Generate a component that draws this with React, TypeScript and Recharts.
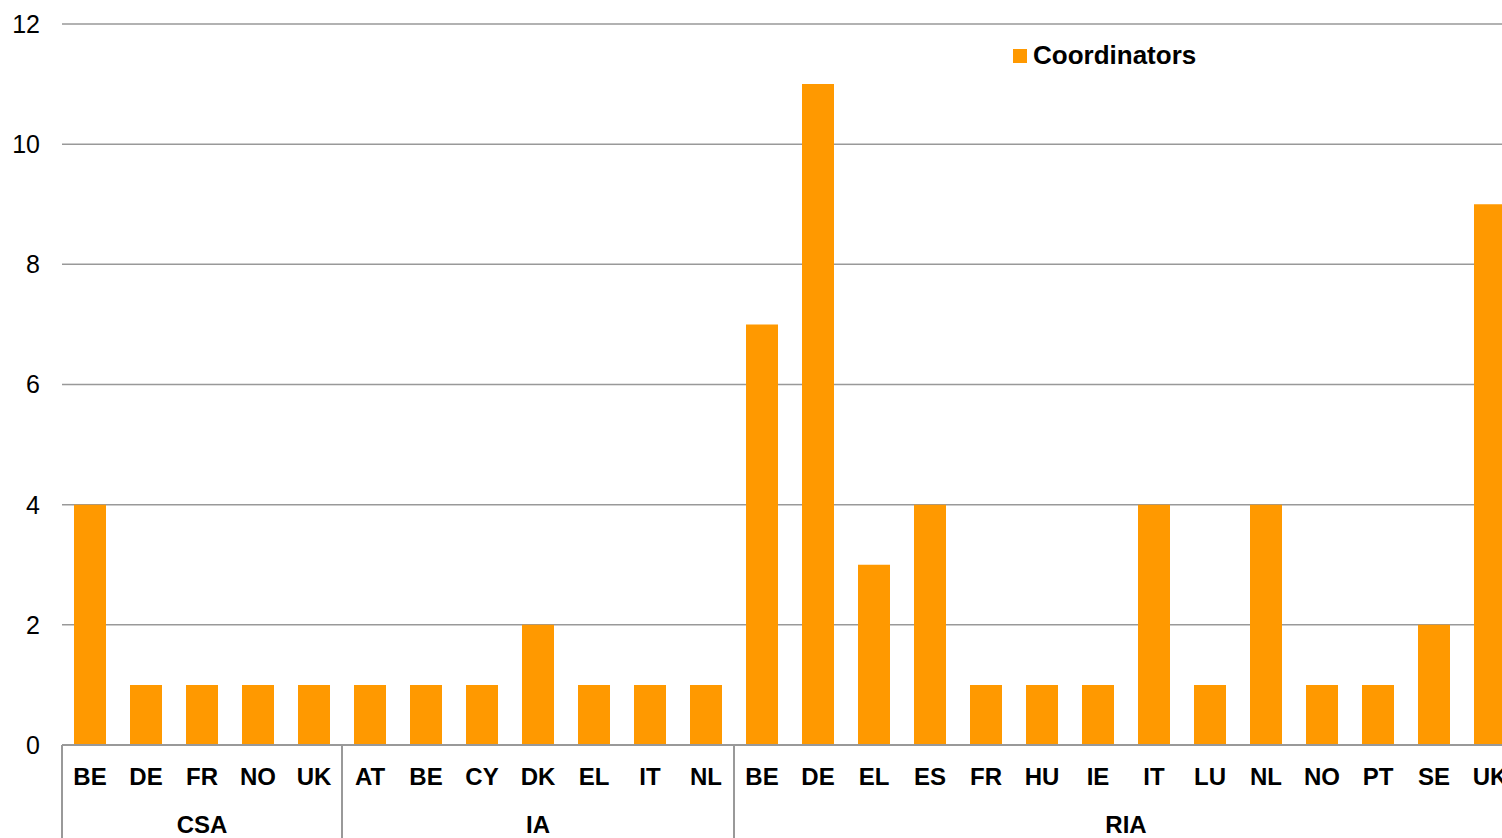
import { Bar, BarChart, CartesianGrid, Legend, XAxis, YAxis } from 'recharts';

// countries by funding type
const csaCountries = ['BE', 'DE', 'FR', 'NO', 'UK'];
const iaCountries = ['AT', 'BE', 'CY', 'DK', 'EL', 'IT', 'NL'];
const riaCountries = ['BE', 'DE', 'EL', 'ES', 'FR', 'HU', 'IE', 'IT', 'LU', 'NL', 'NO', 'PT', 'SE', 'UK'];

// number of coordinators
const csaCoordinators = [4, 1, 1, 1, 1];
const iaCoordinators = [1, 1, 1, 2, 1, 1, 1];
const riaCoordinators = [7, 11, 3, 4, 1, 1, 1, 4, 1, 4, 1, 1, 2, 9];

const yTicks = [0, 2, 4, 6, 8, 10, 12];

const groups = [
  { name: 'CSA', countries: csaCountries, values: csaCoordinators },
  { name: 'IA', countries: iaCountries, values: iaCoordinators },
  { name: 'RIA', countries: riaCountries, values: riaCoordinators },
];

const data = groups.flatMap((g) =>
  g.countries.map((c, i) => ({
    key: `${g.name}-${c}`,
    country: c,
    group: g.name,
    groupSize: g.countries.length,
    coordinators: g.values[i],
  })),
);

const FONT = '"Liberation Sans", Arial, sans-serif';
const GRAY = '#999999';

function CategoryTick(props: any) {
  const { x, y, payload } = props;
  const index = payload.index ?? props.index;
  const row = data[index];
  if (!row) return null;
  const half = payload.offset || 28;
  const isFirst = index === 0 || data[index - 1].group !== row.group;
  const isLast = index === data.length - 1 || data[index + 1].group !== row.group;
  const start = x - half;
  return (
    <g>
      <text x={x} y={y + 40} textAnchor="middle" fontFamily={FONT} fontSize={24} fontWeight="bold" fill="#000">
        {row.country}
      </text>
      {isFirst && (
        <>
          <line x1={start} y1={y} x2={start} y2={y + 160} stroke={GRAY} strokeWidth={2} />
          <text
            x={start + row.groupSize * half}
            y={y + 88}
            textAnchor="middle"
            fontFamily={FONT}
            fontSize={24}
            fontWeight="bold"
            fill="#000"
          >
            {row.group}
          </text>
        </>
      )}
      {isLast && <line x1={x + half} y1={y} x2={x + half} y2={y + 160} stroke={GRAY} strokeWidth={2} />}
    </g>
  );
}

function LegendContent(props: any) {
  const item = props.payload?.[0];
  if (!item) return null;
  return (
    <div style={{ display: 'flex', alignItems: 'center', fontFamily: FONT, fontSize: 26, fontWeight: 'bold', color: '#000' }}>
      <span style={{ display: 'inline-block', width: 14, height: 14, background: item.color, marginRight: 6 }} />
      {item.value}
    </div>
  );
}

export default function App() {
  return (
    <div style={{ position: 'absolute', left: 0, top: 0, width: 1502, height: 838, overflow: 'hidden', background: '#fff' }}>
      <BarChart width={1518} height={900} data={data} margin={{ top: 24, right: 0, bottom: 0, left: 0 }}>
        <CartesianGrid vertical={false} stroke={GRAY} strokeWidth={1.5} />
        <XAxis
          dataKey="key"
          interval={0}
          height={155}
          tickSize={0}
          tickMargin={0}
          tickLine={false}
          axisLine={{ stroke: GRAY, strokeWidth: 2 }}
          tick={<CategoryTick />}
        />
        <YAxis
          width={62}
          domain={[0, 12]}
          ticks={yTicks}
          axisLine={false}
          tickLine={false}
          tickSize={0}
          tickMargin={22}
          tick={{ fontFamily: FONT, fontSize: 25, fill: '#000' }}
        />
        <Legend
          layout="horizontal"
          verticalAlign="middle"
          wrapperStyle={{ left: 1013, top: 40, width: 'auto' }}
          content={<LegendContent />}
        />
        <Bar dataKey="coordinators" name="Coordinators" fill="#FF9900" barSize={32} isAnimationActive={false} />
      </BarChart>
    </div>
  );
}
